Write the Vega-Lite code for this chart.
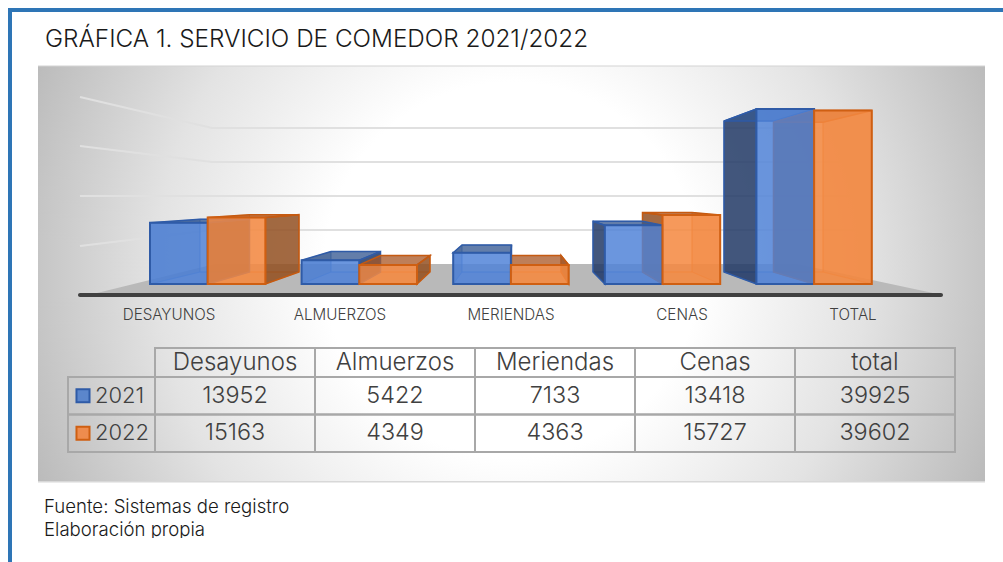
{
"$schema":"https://vega.github.io/schema/vega-lite/v6.json",
"width":1003,"height":562,"padding":0,"autosize":{"type":"none"},"background":"white",
"view":{"stroke":null},
"config":{"text":{"font":"Inter"}},
"datasets":{
"bars":[
{"category":"DESAYUNOS","column":"Desayunos","year":"2021","value":13952,"bar":"D21"},
{"category":"ALMUERZOS","column":"Almuerzos","year":"2021","value":5422,"bar":"A21"},
{"category":"MERIENDAS","column":"Meriendas","year":"2021","value":7133,"bar":"M21"},
{"category":"CENAS","column":"Cenas","year":"2021","value":13418,"bar":"C21"},
{"category":"TOTAL","column":"total","year":"2021","value":39925,"bar":"T21"},
{"category":"DESAYUNOS","column":"Desayunos","year":"2022","value":15163,"bar":"D22"},
{"category":"ALMUERZOS","column":"Almuerzos","year":"2022","value":4349,"bar":"A22"},
{"category":"MERIENDAS","column":"Meriendas","year":"2022","value":4363,"bar":"M22"},
{"category":"CENAS","column":"Cenas","year":"2022","value":15727,"bar":"C22"},
{"category":"TOTAL","column":"total","year":"2022","value":39602,"bar":"T22"}
],
"grid":[{"tick":10000},{"tick":20000},{"tick":30000},{"tick":40000}],
"one":[{"item":"panel"}],
"title":[{"label":"GRÁFICA 1. SERVICIO DE COMEDOR 2021/2022"}],
"notes":[{"label":"Fuente: Sistemas de registro","line":"a"},{"label":"Elaboración propia","line":"b"}]
},
"resolve":{"scale":{"x":"independent","y":"independent","shape":"independent","fill":"independent","stroke":"independent"}},
"layer":[
{"data":{"name":"one"},"mark":{"type":"rect","clip":true,"x":38,"x2":985,"y":-203,"y2":743,"fill":{"gradient":"radial","x1":0.5,"y1":0.5,"x2":0.5,"y2":0.5,"r1":0,"r2":0.55,"stops":[{"offset":0,"color":"#ffffff"},{"offset":0.36,"color":"#ffffff"},{"offset":0.68,"color":"#e3e3e3"},{"offset":1,"color":"#bababa"}]}},"encoding":{}},
{"data":{"name":"one"},"mark":{"type":"rect","x":30,"x2":1003,"y":0,"y2":66,"fill":"white"},"encoding":{}},
{"data":{"name":"one"},"mark":{"type":"rect","x":30,"x2":1003,"y":482,"y2":562,"fill":"white"},"encoding":{}},
{"data":{"name":"one"},"mark":{"type":"rect","x":38,"x2":985,"y":65.5,"y2":66.5,"fill":"#d4d4d4"},"encoding":{}},
{"data":{"name":"one"},"mark":{"type":"rect","x":38,"x2":985,"y":481,"y2":482.5,"fill":"#d8d8d8"},"encoding":{}},
{"data":{"name":"one"},"mark":{"type":"rect","x":8,"x2":1003,"y":8,"y2":12,"fill":"#2e75b6"},"encoding":{}},
{"data":{"name":"one"},"mark":{"type":"rect","x":8,"x2":12,"y":8,"y2":562,"fill":"#2e75b6"},"encoding":{}},
{"data":{"name":"title"},"mark":{"type":"text","x":45,"y":40,"align":"left","baseline":"middle","fontSize":24.3,"fontWeight":300,"color":"#1a1a1a"},"encoding":{"text":{"field":"label"}}},
{"data":{"name":"grid"},"mark":{"type":"point","filled":false,"size":4,"opacity":1,"x":212,"strokeWidth":2,"stroke":"#e0e0e0"},
"encoding":{"y":{"field":"tick","type":"quantitative","axis":null,"scale":{"domain":[0,40000],"range":[264,128]}},
"shape":{"field":"tick","type":"nominal","legend":null,"scale":{"domain":[10000,20000,30000,40000],"range":["M-132 16L0 0L660 0","M-132 0L0 0L660 0","M-132 -16L0 0L660 0","M-132 -31L0 0L660 0"]}}}},
{"data":{"name":"one"},"mark":{"type":"point","filled":true,"size":4,"opacity":1,"x":0,"y":0,"fill":"#b9b9b9","stroke":null,"shape":"M97 293L933 293L797 264L215 264Z"},"encoding":{}},
{"data":{"name":"one"},"mark":{"type":"rect","x":78,"x2":943,"y":293,"y2":297,"fill":"#404040","cornerRadius":2},"encoding":{}},
{"data":{"name":"bars"},"transform":[{"filter":"datum.year==='2021'"}],"mark":{"type":"bar","fill":"#4a7bd0","fillOpacity":0.12,"stroke":"#3f6fc0","strokeOpacity":0.5,"strokeWidth":1},
"encoding":{"x":{"field":"category","type":"nominal","sort":null,"axis":null,"scale":{"type":"band","domain":["DESAYUNOS","ALMUERZOS","MERIENDAS","CENAS","TOTAL"],"range":[200,773.5],"paddingInner":0.6221,"paddingOuter":0}},
"y":{"field":"value","type":"quantitative","axis":null,"scale":{"domain":[0,40000],"range":[272,120.8],"nice":false}}}},
{"data":{"name":"bars"},"transform":[{"filter":"datum.year==='2022'"}],"mark":{"type":"bar","fill":"#f07f30","fillOpacity":0.12,"stroke":"#e0731f","strokeOpacity":0.6,"strokeWidth":1},
"encoding":{"x":{"field":"category","type":"nominal","sort":null,"axis":null,"scale":{"type":"band","domain":["DESAYUNOS","ALMUERZOS","MERIENDAS","CENAS","TOTAL"],"range":[249.5,823],"paddingInner":0.6221,"paddingOuter":0}},
"y":{"field":"value","type":"quantitative","axis":null,"scale":{"domain":[0,40000],"range":[272,120.8],"nice":false}}}},
{"data":{"name":"bars"},"mark":{"type":"point","filled":true,"size":4,"opacity":1,"fillOpacity":0.42,"strokeOpacity":0.4,"strokeWidth":1},
"encoding":{"x":{"field":"category","type":"nominal","sort":null,"axis":null,"scale":{"type":"point","domain":["DESAYUNOS","ALMUERZOS","MERIENDAS","CENAS","TOTAL"],"range":[207.7,814.1],"padding":0}},
"y":{"field":"value","type":"quantitative","axis":null,"scale":{"domain":[0,40000],"range":[284,108.68],"nice":false}},
"fill":{"field":"year","legend":null,"scale":{"domain":["2021","2022"],"range":["#2f5597","#d9691c"]}},
"stroke":{"field":"year","legend":null,"scale":{"domain":["2021","2022"],"range":["#3f6fc0","#e0731f"]}},
"shape":{"field":"bar","legend":null,"scale":{"domain":["D21","A21","M21","C21","T21","D22","A22","M22","C22","T22"],"range":[
"M-57.7 0L-57.7 61.2L-7.7 49.2L-7.7 -3.6Z",
"M-57.7 0L-57.7 23.8L-28.3 11.8L-28.3 -8.7Z",
"M-57.7 0L-57.7 31.3L-48.9 19.3L-48.9 -7.7Z",
"M0 0L0 58.8L-20 46.8L-20 -3.9Z",
"M0 0L0 175L-40.6 163L-40.6 12.1Z",
"M0 0L0 66.5L41.8 54.5L41.8 -2.9Z",
"M0 0L0 19.1L21.2 7.1L21.2 -9.4Z",
"M0 0L0 19.1L0.6 7.1L0.6 -9.4Z",
"M57.7 0L57.7 68.9L29.5 56.9L29.5 -2.5Z",
"M57.7 0L57.7 173.6L8.9 161.6L8.9 11.9Z"]}}}},
{"data":{"name":"bars"},"mark":{"type":"point","filled":true,"size":4,"opacity":1,"fillOpacity":0.28,"strokeOpacity":0.5,"strokeWidth":1},
"encoding":{"x":{"field":"category","type":"nominal","sort":null,"axis":null,"scale":{"type":"point","domain":["DESAYUNOS","ALMUERZOS","MERIENDAS","CENAS","TOTAL"],"range":[207.7,814.1],"padding":0}},
"y":{"field":"value","type":"quantitative","axis":null,"scale":{"domain":[0,40000],"range":[284,108.68],"nice":false}},
"fill":{"field":"year","legend":null,"scale":{"domain":["2021","2022"],"range":["#4a7bd0","#f08a3c"]}},
"stroke":{"field":"year","legend":null,"scale":{"domain":["2021","2022"],"range":["#3f6fc0","#e0731f"]}},
"shape":{"field":"bar","legend":null,"scale":{"domain":["D21","A21","M21","C21","T21","D22","A22","M22","C22","T22"],"range":[
"M-57.7 61.2L0 61.2L41.8 49.2L-7.7 49.2Z",
"M-57.7 23.8L0 23.8L21.2 11.8L-28.3 11.8Z",
"M-57.7 31.3L0 31.3L0.6 19.3L-48.9 19.3Z",
"M-57.7 58.8L0 58.8L-20 46.8L-69.5 46.8Z",
"M-57.7 175L0 175L-40.6 163L-90.1 163Z",
"M0 66.5L57.7 66.5L91.3 54.5L41.8 54.5Z",
"M0 19.1L57.7 19.1L70.7 7.1L21.2 7.1Z",
"M0 19.1L57.7 19.1L50.1 7.1L0.6 7.1Z",
"M0 68.9L57.7 68.9L29.5 56.9L-20 56.9Z",
"M0 173.6L57.7 173.6L8.9 161.6L-40.6 161.6Z"]}}}},
{"data":{"name":"bars"},"mark":{"type":"point","filled":true,"size":4,"opacity":1,"fillOpacity":0.82,"strokeWidth":1.5},
"encoding":{"x":{"field":"category","type":"nominal","sort":null,"axis":null,"scale":{"type":"point","domain":["DESAYUNOS","ALMUERZOS","MERIENDAS","CENAS","TOTAL"],"range":[207.7,814.1],"padding":0}},
"y":{"field":"value","type":"quantitative","axis":null,"scale":{"domain":[0,40000],"range":[284,108.68],"nice":false}},
"fill":{"field":"year","legend":null,"scale":{"domain":["2021","2022"],"range":["#1f3662","#8f4d1e"]}},
"stroke":{"field":"year","legend":null,"scale":{"domain":["2021","2022"],"range":["#2f5ba7","#c55a11"]}},
"shape":{"field":"bar","legend":null,"scale":{"domain":["D21","A21","M21","C21","T21","D22","A22","M22","C22","T22"],"range":[
"M0 0L0 61.2L41.8 49.2L41.8 -3.6Z",
"M0 0L0 23.8L21.2 11.8L21.2 -8.7Z",
"M0 0L0 31.3L0.6 19.3L0.6 -7.7Z",
"M-57.7 0L-57.7 58.8L-69.5 46.8L-69.5 -3.9Z",
"M-57.7 0L-57.7 175L-90.1 163L-90.1 12.1Z",
"M57.7 0L57.7 66.5L91.3 54.5L91.3 -2.9Z",
"M57.7 0L57.7 19.1L70.7 7.1L70.7 -9.4Z",
"M57.7 0L57.7 19.1L50.1 7.1L50.1 -9.4Z",
"M0 0L0 68.9L-20 56.9L-20 -2.5Z",
"M0 0L0 173.6L-40.6 161.6L-40.6 11.9Z"]}}}},
{"data":{"name":"bars"},"mark":{"type":"point","filled":true,"size":4,"opacity":1,"fillOpacity":0.75,"strokeWidth":1.5},
"encoding":{"x":{"field":"category","type":"nominal","sort":null,"axis":null,"scale":{"type":"point","domain":["DESAYUNOS","ALMUERZOS","MERIENDAS","CENAS","TOTAL"],"range":[207.7,814.1],"padding":0}},
"y":{"field":"value","type":"quantitative","axis":null,"scale":{"domain":[0,40000],"range":[284,108.68],"nice":false}},
"fill":{"field":"year","legend":null,"scale":{"domain":["2021","2022"],"range":["#36588f","#a8592a"]}},
"stroke":{"field":"year","legend":null,"scale":{"domain":["2021","2022"],"range":["#2f5ba7","#c55a11"]}},
"shape":{"field":"bar","legend":null,"scale":{"domain":["D21","A21","M21","C21","T21","D22","A22","M22","C22","T22"],"range":[
"M-57.7 0L0 0L41.8 -3.6L-7.7 -3.6Z",
"M-57.7 0L0 0L21.2 -8.7L-28.3 -8.7Z",
"M-57.7 0L0 0L0.6 -7.7L-48.9 -7.7Z",
"M-57.7 0L0 0L-20 -3.9L-69.5 -3.9Z",
"M-57.7 0L0 0L-40.6 12.1L-90.1 12.1Z",
"M0 0L57.7 0L91.3 -2.9L41.8 -2.9Z",
"M0 0L57.7 0L70.7 -9.4L21.2 -9.4Z",
"M0 0L57.7 0L50.1 -9.4L0.6 -9.4Z",
"M0 0L57.7 0L29.5 -2.5L-20 -2.5Z",
"M0 0L57.7 0L8.9 11.9L-40.6 11.9Z"]}}}},
{"data":{"name":"bars"},"transform":[{"filter":"datum.year==='2021'"}],"mark":{"type":"bar","fill":"#4f82d8","fillOpacity":0.82,"stroke":"#2f5ba7","strokeWidth":2},
"encoding":{"x":{"field":"category","type":"nominal","sort":null,"axis":null,"scale":{"type":"band","domain":["DESAYUNOS","ALMUERZOS","MERIENDAS","CENAS","TOTAL"],"range":[150,814.1],"paddingInner":0.6194,"paddingOuter":0}},
"y":{"field":"value","type":"quantitative","axis":null,"scale":{"domain":[0,40000],"range":[284,108.68],"nice":false}}}},
{"data":{"name":"bars"},"transform":[{"filter":"datum.year==='2022'"}],"mark":{"type":"bar","fill":"#f58a42","fillOpacity":0.85,"stroke":"#cf5f12","strokeWidth":2},
"encoding":{"x":{"field":"category","type":"nominal","sort":null,"axis":null,"scale":{"type":"band","domain":["DESAYUNOS","ALMUERZOS","MERIENDAS","CENAS","TOTAL"],"range":[207.7,871.8],"paddingInner":0.6194,"paddingOuter":0}},
"y":{"field":"value","type":"quantitative","axis":null,"scale":{"domain":[0,40000],"range":[284,108.68],"nice":false}}}},
{"data":{"name":"bars"},"transform":[{"filter":"datum.year==='2021'"}],"mark":{"type":"text","y":315,"align":"center","baseline":"middle","fontSize":15.2,"fontWeight":300,"color":"#404040"},
"encoding":{"x":{"field":"category","type":"nominal","sort":null,"axis":null,"scale":{"type":"point","domain":["DESAYUNOS","ALMUERZOS","MERIENDAS","CENAS","TOTAL"],"range":[169,853],"padding":0}},"text":{"field":"category"}}},
{"data":{"name":"bars"},"transform":[{"filter":"datum.year==='2021'"}],"mark":{"type":"rect","fillOpacity":0,"stroke":"#a8a8a8","strokeWidth":2},
"encoding":{"x":{"field":"column","type":"nominal","sort":null,"axis":null,"scale":{"type":"band","domain":["Desayunos","Almuerzos","Meriendas","Cenas","total"],"range":[155,955],"padding":0}},
"y":{"field":"year","type":"nominal","axis":null,"scale":{"type":"band","range":[348,377],"padding":0}}}},
{"data":{"name":"bars"},"transform":[{"filter":"datum.year==='2021'"}],"mark":{"type":"text","align":"center","baseline":"middle","fontSize":24,"fontWeight":300,"color":"#404040"},
"encoding":{"x":{"field":"column","type":"nominal","sort":null,"axis":null,"scale":{"type":"band","domain":["Desayunos","Almuerzos","Meriendas","Cenas","total"],"range":[155,955],"padding":0}},
"y":{"field":"year","type":"nominal","axis":null,"scale":{"type":"band","range":[348,377],"padding":0}},"text":{"field":"column"}}},
{"data":{"name":"bars"},"mark":{"type":"rect","fillOpacity":0,"stroke":"#a8a8a8","strokeWidth":2},
"encoding":{"x":{"field":"column","type":"nominal","sort":null,"axis":null,"scale":{"type":"band","domain":["Desayunos","Almuerzos","Meriendas","Cenas","total"],"range":[155,955],"padding":0}},
"y":{"field":"year","type":"nominal","axis":null,"scale":{"type":"band","domain":["2021","2022"],"range":[377,452],"padding":0}}}},
{"data":{"name":"bars"},"mark":{"type":"text","align":"center","baseline":"middle","fontSize":23.4,"fontWeight":300,"color":"#404040"},
"encoding":{"x":{"field":"column","type":"nominal","sort":null,"axis":null,"scale":{"type":"band","domain":["Desayunos","Almuerzos","Meriendas","Cenas","total"],"range":[155,955],"padding":0}},
"y":{"field":"year","type":"nominal","axis":null,"scale":{"type":"band","domain":["2021","2022"],"range":[377,452],"padding":0}},"text":{"field":"value","type":"quantitative","format":"d"}}},
{"data":{"name":"bars"},"transform":[{"filter":"datum.column==='Desayunos'"}],"mark":{"type":"rect","fillOpacity":0,"stroke":"#a8a8a8","strokeWidth":2},
"encoding":{"x":{"field":"column","type":"nominal","axis":null,"scale":{"type":"band","range":[68,155],"padding":0}},
"y":{"field":"year","type":"nominal","axis":null,"scale":{"type":"band","domain":["2021","2022"],"range":[377,452],"padding":0}}}},
{"data":{"name":"bars"},"transform":[{"filter":"datum.column==='Desayunos'"}],"mark":{"type":"point","filled":true,"shape":"square","size":170,"opacity":1,"x":83,"strokeWidth":2},
"encoding":{"y":{"field":"year","type":"nominal","axis":null,"scale":{"type":"band","domain":["2021","2022"],"range":[377,452],"padding":0}},
"fill":{"field":"year","legend":null,"scale":{"domain":["2021","2022"],"range":["#5b86cc","#ee8c4e"]}},
"stroke":{"field":"year","legend":null,"scale":{"domain":["2021","2022"],"range":["#2f5ba7","#cf5f12"]}}}},
{"data":{"name":"bars"},"transform":[{"filter":"datum.column==='Desayunos'"}],"mark":{"type":"text","x":95,"align":"left","baseline":"middle","fontSize":22,"fontWeight":300,"color":"#404040"},
"encoding":{"y":{"field":"year","type":"nominal","axis":null,"scale":{"type":"band","domain":["2021","2022"],"range":[377,452],"padding":0}},"text":{"field":"year"}}},
{"data":{"name":"notes"},"mark":{"type":"text","x":44,"align":"left","baseline":"middle","fontSize":18.6,"fontWeight":300,"color":"#1a1a1a"},
"encoding":{"y":{"field":"line","type":"nominal","axis":null,"scale":{"type":"band","domain":["a","b"],"range":[496,541],"padding":0}},"text":{"field":"label"}}},
{"data":{"name":"one"},"mark":{"type":"rect","x":13,"x2":1003,"y":538,"y2":562,"fill":"white"},"encoding":{}}
]
}
